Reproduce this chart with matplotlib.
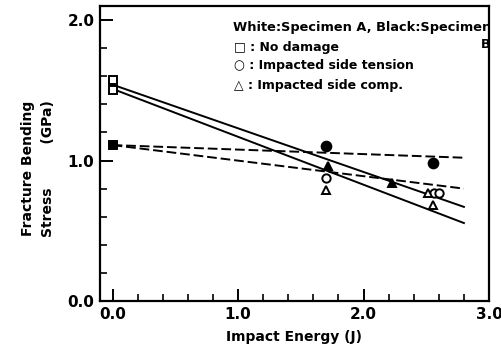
import matplotlib
matplotlib.use("Agg")
import matplotlib.pyplot as plt
from matplotlib.ticker import MultipleLocator

# Data
sq_open_x = [0.0, 0.0]
sq_open_y = [1.57, 1.50]
sq_fill_x = [0.0]
sq_fill_y = [1.11]

ci_open_x = [1.7, 2.56, 2.6]
ci_open_y = [0.876, 0.77, 0.77]
ci_fill_x = [1.7, 2.55]
ci_fill_y = [1.10, 0.98]

tr_open_x = [1.7, 2.51, 2.55]
tr_open_y = [0.79, 0.77, 0.68]
tr_fill_x = [1.72, 2.23]
tr_fill_y = [0.96, 0.84]

solid1_x = [0.0, 2.8]
solid1_y = [1.54, 0.67]
solid2_x = [0.0, 2.8]
solid2_y = [1.51, 0.555]
dash1_x = [0.0, 2.8]
dash1_y = [1.11, 1.02]
dash2_x = [0.0, 2.8]
dash2_y = [1.11, 0.80]

x_ticks = [0.0, 1.0, 2.0, 3.0]
x_ticklabels = ["0.0", "1.0", "2.0", "3.0"]
y_ticks = [0.0, 1.0, 2.0]
y_ticklabels = ["0.0", "1.0", "2.0"]

legend_lines = ["\u25a1 : No damage", "\u25cb : Impacted side tension", "\u25b3 : Impacted side comp."]

plt.rcParams['font.family'] = ['DejaVu Sans']
plt.rcParams['font.weight'] = 'bold'

W, H = 502, 364
fig = plt.figure(figsize=(W/100, H/100), dpi=100)
ax = fig.add_axes([100/W, 1-301/H, (489-100)/W, (301-6)/H])

lw = 1.4
ax.plot(solid1_x, solid1_y, color='black', lw=lw)
ax.plot(solid2_x, solid2_y, color='black', lw=lw)
ax.plot(dash1_x, dash1_y, color='black', lw=lw, linestyle=(0, (5, 2)))
ax.plot(dash2_x, dash2_y, color='black', lw=lw, linestyle=(0, (5, 2)))

ms = 6
mew = 1.4
ax.plot(sq_open_x, sq_open_y, 's', ms=ms, mfc='white', mec='black', mew=mew)
ax.plot(sq_fill_x, sq_fill_y, 's', ms=ms, mfc='black', mec='black', mew=mew)
ax.plot(ci_open_x, ci_open_y, 'o', ms=ms, mfc='white', mec='black', mew=mew)
ax.plot(ci_fill_x, ci_fill_y, 'o', ms=ms+1, mfc='black', mec='black', mew=mew)
ax.plot(tr_open_x, tr_open_y, '^', ms=ms, mfc='white', mec='black', mew=mew)
ax.plot(tr_fill_x, tr_fill_y, '^', ms=ms, mfc='black', mec='black', mew=mew)

ax.set_xlim(-0.1, 3.0)
ax.set_ylim(0.0, 2.1)

ax.set_xticks(x_ticks)
ax.set_xticklabels(x_ticklabels)
ax.set_yticks(y_ticks)
ax.set_yticklabels(y_ticklabels)
ax.xaxis.set_minor_locator(MultipleLocator(0.2))
ax.yaxis.set_minor_locator(MultipleLocator(0.2))
ax.tick_params(which='major', direction='in', length=9, width=1.4, labelsize=11, pad=4)
ax.tick_params(which='minor', direction='in', length=5, width=1.2)
ax.tick_params(top=False, right=False, which='both')
for lab in ax.get_xticklabels() + ax.get_yticklabels():
    lab.set_fontweight('bold')

for s in ax.spines.values():
    s.set_linewidth(1.6)

ax.set_xlabel("Impact Energy (J)", fontsize=10, fontweight='bold', labelpad=6)
ax.set_ylabel("Fracture Bending\nStress         (GPa)", fontsize=10, fontweight='bold',
              linespacing=1.6)
ax.yaxis.set_label_coords(-0.115, 0.45)

# Legend-like annotation text (pixel positions from top-left)
def ftext(px, py, s, size=9, clip=False):
    t = fig.text(px/W, 1-py/H, s, fontsize=size, fontweight='bold', va='center', ha='left')
    if clip:
        t.set_clip_box(ax.bbox)
        t.set_clip_on(True)
    return t

ftext(233, 28, "White:Specimen A, Black:Specimen", size=9.3, clip=True)
ftext(481, 44, "B", size=9)
ypos = [47, 66, 85]
for t, yp in zip(legend_lines, ypos):
    ftext(234, yp, t, size=9)

fig.savefig("out.png", dpi=100)
